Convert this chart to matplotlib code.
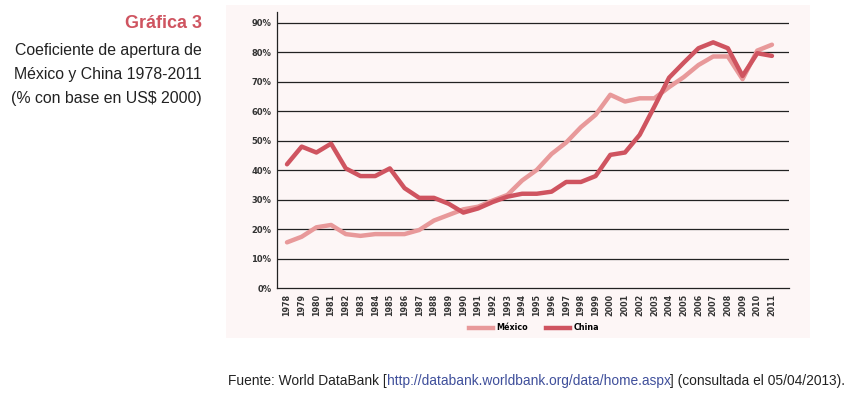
import matplotlib
matplotlib.use("Agg")
import matplotlib.pyplot as plt
from matplotlib.patches import Rectangle
from matplotlib.lines import Line2D

plt.rcParams['font.family'] = ['Liberation Sans', 'DejaVu Sans']

years = list(range(1978, 2012))
mexico = [15.5, 17.4, 20.6, 21.4, 18.3, 17.7, 18.3, 18.3, 18.3, 19.7,
          22.9, 24.8, 26.7, 27.6, 29.7, 31.6, 36.5, 40.1, 45.5, 49.4,
          54.6, 58.8, 65.6, 63.3, 64.4, 64.4, 68.2, 71.6, 75.7, 78.6,
          78.6, 70.9, 80.6, 82.6]
china = [42.0, 48.0, 46.0, 49.0, 40.6, 38.0, 38.0, 40.6, 33.9, 30.6,
         30.6, 28.6, 25.6, 27.0, 29.2, 31.0, 32.0, 32.0, 32.7, 36.0,
         36.0, 38.0, 45.2, 46.0, 52.0, 61.6, 71.4, 76.5, 81.4, 83.4,
         81.4, 72.0, 79.7, 78.8]
yticks = [0, 10, 20, 30, 40, 50, 60, 70, 80, 90]

col_mex = '#E8999A'
col_chn = '#CF5460'
W, H = 854, 393

fig = plt.figure(figsize=(W / 100, H / 100), dpi=100)
fig.patch.set_facecolor('white')

# pink panel behind the chart
fig.patches.append(Rectangle((226 / W, 1 - 338 / H), (810 - 226) / W, (338 - 5) / H,
                             transform=fig.transFigure, facecolor='#FDF6F6',
                             edgecolor='none', zorder=-5))

ax = fig.add_axes([277 / W, 1 - 288 / H, (789 - 277) / W, (288 - 12) / H])
ax.set_zorder(2)
ax.set_facecolor('none')
ax.plot(years, mexico, color=col_mex, lw=3.2, solid_capstyle='round', zorder=3)
ax.plot(years, china, color=col_chn, lw=3.2, solid_capstyle='round', zorder=4)

ax.set_xlim(1978 - 0.68, 2011 + 1.16)
ax.set_ylim(0, 93.7)
ax.set_yticks(yticks)
ax.set_yticklabels([f'{v}%' for v in yticks], fontsize=6, fontweight='bold', color='#333333',
                   family=['DejaVu Sans'])
ax.set_xticks(years)
ax.set_xticklabels([str(y) for y in years], rotation=90, fontsize=5.8, fontweight='bold',
                   color='#333333', family=['DejaVu Sans'])
ax.tick_params(length=0, pad=4)
for v in yticks[1:]:
    ax.axhline(v, color='#222222', lw=0.9, zorder=1)
for s in ['top', 'right']:
    ax.spines[s].set_visible(False)
for s in ['left', 'bottom']:
    ax.spines[s].set_color('#222222')
    ax.spines[s].set_linewidth(0.9)

# legend
leg_handles = [Line2D([], [], color=col_mex, lw=3.2), Line2D([], [], color=col_chn, lw=3.2)]
fig.legend(leg_handles, ['México', 'China'], loc='center', bbox_to_anchor=(534 / W, 1 - 328 / H),
           ncol=2, frameon=False, handlelength=3.0, handletextpad=0.35, columnspacing=2.3,
           prop={'size': 5.8, 'weight': 'bold', 'family': 'DejaVu Sans'})

# title block
fig.text(202 / W, 1 - 23 / H, 'Gráfica 3', ha='right', va='center', fontsize=13,
         fontweight='bold', color=col_chn)
for i, line in enumerate(['Coeficiente de apertura de', 'México y China 1978-2011',
                          '(% con base en US$ 2000)']):
    fig.text(202 / W, 1 - (50 + 24 * i) / H, line, ha='right', va='center',
             fontsize=11.4, color='#222222')

# source line, built piece by piece
fig.canvas.draw()
r = fig.canvas.get_renderer()
x = 228
for piece, c in [('Fuente: World DataBank [', '#222222'),
                 ('http://databank.worldbank.org/data/home.aspx', '#3F4F9B'),
                 ('] (consultada el 05/04/2013).', '#222222')]:
    t = fig.text(x / W, 1 - 381 / H, piece, ha='left', va='center', fontsize=9.95, color=c)
    x += t.get_window_extent(renderer=r).width

fig.savefig('out.png', dpi=100)
